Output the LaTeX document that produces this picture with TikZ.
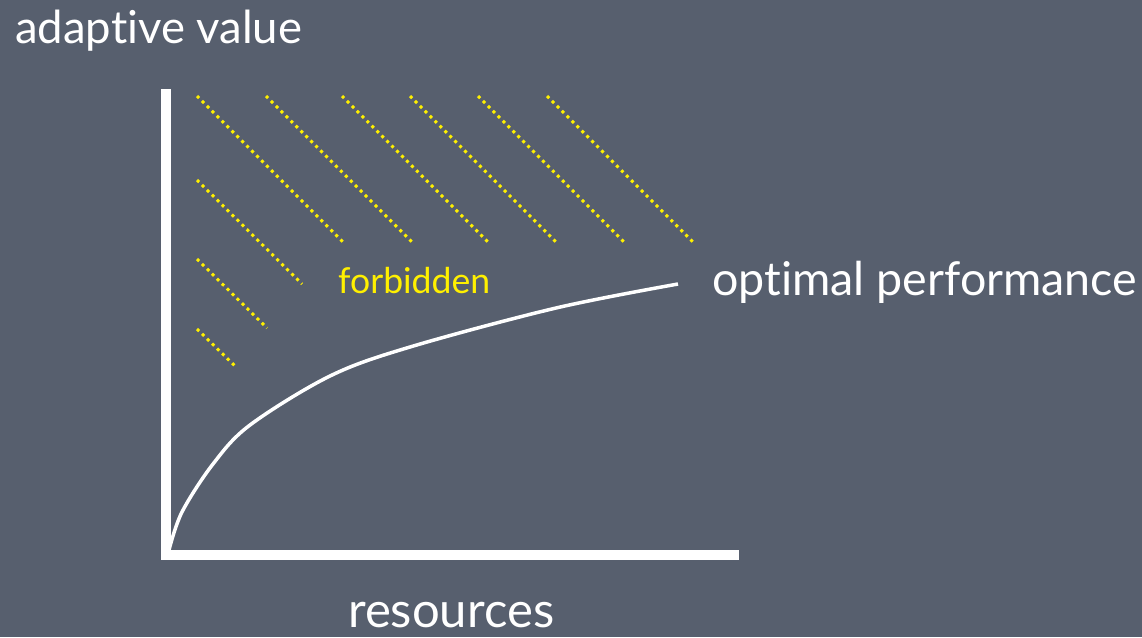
\documentclass[tikz,border=0pt]{standalone}
\usepackage{fontspec}
\setmainfont{Lato}[Ligatures=NoCommon]
\usepackage{graphicx}
\definecolor{board}{RGB}{87,95,110}
\definecolor{hatch}{RGB}{255,240,0}
\tikzset{
  axisline/.style={draw=white, line width=10pt},
  curveline/.style={draw=white, line width=3.5pt, line join=round},
  hatchline/.style={draw=hatch, line width=3pt, dash pattern=on 3pt off 4pt},
  whitelabel/.style={text=white, inner sep=0pt, anchor=base west},
  yellowlabel/.style={text=hatch, inner sep=0pt, anchor=base west}
}
\begin{document}
\begin{tikzpicture}[x=1pt,y=-1pt]
\fill[board] (0,0) rectangle (1142,637);
\useasboundingbox (0,0) rectangle (1142,637);
% axes
\coordinate (ytop) at (166,89);
\coordinate (ybot) at (166,560);
\coordinate (xleft) at (161,555);
\coordinate (xright) at (739,555);
\draw[axisline] (ytop) -- (ybot);
\draw[axisline] (xleft) -- (xright);
% hatching
\foreach \sx in {197,266,342,410,478,547}{
  \draw[hatchline] (\sx,96) -- ++(147,147);
}
\draw[hatchline] (197,180) -- (302,284);
\draw[hatchline] (197,259) -- (267,328);
\draw[hatchline] (197,329) -- (236,367);
% curve
\coordinate (c0) at (169,550);
\coordinate (cend) at (678,284);
\draw[curveline] plot[smooth, tension=0.55] coordinates {(c0) (182,512) (213,464) (250,425) (330,376) (410,347) (556,308) (cend)};
% labels
\node[whitelabel] (yl) at (15,43) {\resizebox{287pt}{!}{adaptive value}};
\node[whitelabel] (opt) at (712,295) {\resizebox{425pt}{!}{optimal performance}};
\node[whitelabel] (xl) at (348,627) {\resizebox{206pt}{!}{resources}};
\node[yellowlabel] (forb) at (338,293) {\resizebox{152pt}{!}{forbidden}};
\end{tikzpicture}
\end{document}
